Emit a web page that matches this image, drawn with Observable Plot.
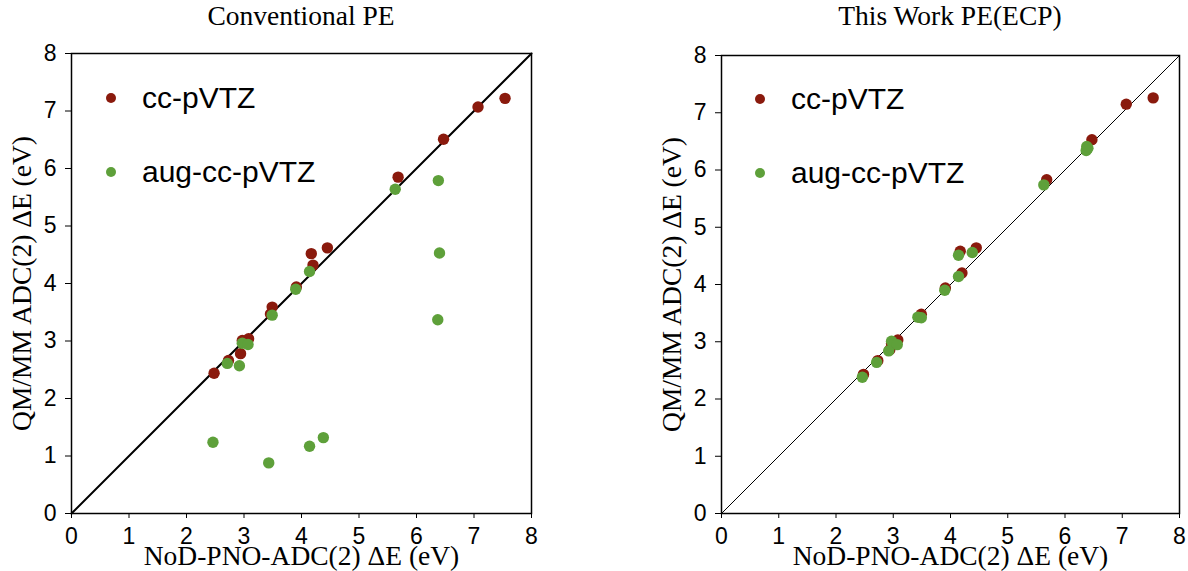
<!DOCTYPE html>
<html>
<head>
<meta charset="utf-8">
<script src="https://cdn.jsdelivr.net/npm/d3@7"></script>
<script src="https://cdn.jsdelivr.net/npm/@observablehq/plot@0.6"></script>
<style>
  html, body { margin: 0; padding: 0; background: #fff; }
  #wrap { position: relative; width: 1188px; height: 571px; overflow: hidden; }
  .panel { position: absolute; top: 0; height: 571px; }
  .title { position: absolute; top: 1px; font: 27.5px "Liberation Serif", serif; line-height: 30px; text-align: center; color: #000; white-space: nowrap; }
  .chart { position: absolute; top: 36px; left: 0; }
  .legend { position: absolute; font: 30px "Liberation Sans", sans-serif; color: #000; }
  .legend .row { position: absolute; white-space: nowrap; height: 0; }
  .legend .dot { position: absolute; width: 10px; height: 10px; border-radius: 50%; top: -5px; }
  .legend .lab { position: absolute; top: -18px; line-height: 36px; }
</style>
</head>
<body>
<div id="wrap"></div>
<script>
// ---- data ----
const panelTitles = ["Conventional PE", "This Work PE(ECP)"];
const seriesNames = ["cc-pVTZ", "aug-cc-pVTZ"];
const seriesColors = ["#8a1a0d", "#5ea03a"];
const xLabel = "NoD-PNO-ADC(2) ΔE (eV)";
const yLabel = "QM/MM ADC(2) ΔE (eV)";
const axisTicks = [0, 1, 2, 3, 4, 5, 6, 7, 8];
const diagonal = [0, 8];

// NoD-PNO-ADC(2) reference energies
const ccX  = [7.54, 7.07, 6.47, 5.68, 4.45, 4.17, 4.20, 3.91, 3.49, 3.46, 3.08, 2.97, 2.94, 2.73, 2.48];
const augX = [6.38, 6.40, 6.37, 5.63, 4.38, 4.14, 4.14, 3.90, 3.43, 3.49, 2.97, 3.07, 2.92, 2.71, 2.46];

// Conventional PE
const convCcY  = [7.22, 7.07, 6.51, 5.85, 4.62, 4.52, 4.32, 3.94, 3.59, 3.47, 3.04, 3.01, 2.78, 2.66, 2.44];
const convAugY = [5.79, 4.53, 3.37, 5.64, 1.32, 4.21, 1.17, 3.90, 0.88, 3.45, 2.96, 2.94, 2.57, 2.61, 1.24];

// This work PE(ECP)
const ecpCcY  = [7.26, 7.15, 6.53, 5.83, 4.64, 4.58, 4.20, 3.94, 3.48, 3.43, 3.03, 2.97, 2.86, 2.67, 2.43];
const ecpAugY = [6.41, 6.38, 6.34, 5.74, 4.56, 4.51, 4.14, 3.90, 3.43, 3.42, 3.01, 2.95, 2.84, 2.64, 2.38];

// ---- layout ----
const panels = [
  {left: 0,   width: 560, mL: 71, mR: 29, mT: 17, diagW: 2,   ccY: convCcY, augY: convAugY,
   legend: {dotX: 111, textX: 142, rows: [98, 172]}},
  {left: 640, width: 548, mL: 81, mR: 9,  mT: 19, diagW: 1,   ccY: ecpCcY,  augY: ecpAugY,
   legend: {dotX: 760 - 640, textX: 791 - 640, rows: [99, 173]}}
];

const wrap = document.getElementById("wrap");
const serif = "'Liberation Serif', 'Times New Roman', serif";
const sans = "'Liberation Sans', Arial, sans-serif";
const tickFont = 23;

panels.forEach((p, i) => {
  const div = document.createElement("div");
  div.className = "panel";
  div.style.left = p.left + "px";
  div.style.width = p.width + "px";
  wrap.appendChild(div);

  const innerW = p.width - p.mL - p.mR;

  const title = document.createElement("div");
  title.className = "title";
  title.style.left = p.mL + "px";
  title.style.width = innerW + "px";
  title.textContent = panelTitles[i];
  div.appendChild(title);

  const cc = ccX.map((x, k) => ({x, y: p.ccY[k]}));
  const aug = augX.map((x, k) => ({x, y: p.augY[k]}));
  const diag = diagonal.map(v => ({x: v, y: v}));

  const chart = Plot.plot({
    width: p.width,
    height: 535,
    marginLeft: p.mL,
    marginRight: p.mR,
    marginTop: p.mT,
    marginBottom: 58,
    style: {fontFamily: sans, fontSize: tickFont + "px", color: "#000", background: "transparent", overflow: "visible"},
    x: {domain: [0, 8]},
    y: {domain: [0, 8]},
    marks: [
      Plot.axisX({ticks: axisTicks, tickSize: 5, tickPadding: 9, label: null, fontSize: tickFont, tickFormat: d => String(d)}),
      Plot.axisY({ticks: axisTicks, tickSize: 6, tickPadding: 9, label: null, fontSize: tickFont, tickFormat: d => String(d)}),
      Plot.line(diag, {x: "x", y: "y", stroke: "#000", strokeWidth: p.diagW}),
      Plot.dot(cc, {x: "x", y: "y", r: 5.7, fill: seriesColors[0], stroke: "none"}),
      Plot.dot(aug, {x: "x", y: "y", r: 5.7, fill: seriesColors[1], stroke: "none"}),
      Plot.frame({stroke: "#000", strokeWidth: 1.5}),
      Plot.text([xLabel], {frameAnchor: "bottom", lineAnchor: "middle", textAnchor: "middle", dy: 43, text: d => d, fontFamily: serif, fontSize: 27.5, fill: "#000"}),
      Plot.text([yLabel], {frameAnchor: "left", textAnchor: "middle", lineAnchor: "middle", dx: -49, rotate: -90, text: d => d, fontFamily: serif, fontSize: 27.5, fill: "#000"})
    ]
  });
  // make sure tick labels use the intended size/family
  d3.select(chart).selectAll('g[aria-label$="tick label"]')
    .attr("font-size", tickFont).style("font-size", tickFont + "px").style("font-family", sans);
  chart.classList.add("chart");
  div.appendChild(chart);

  const legend = document.createElement("div");
  legend.className = "legend";
  legend.style.left = "0px";
  legend.style.top = "0px";
  seriesNames.forEach((name, k) => {
    const row = document.createElement("div");
    row.className = "row";
    row.style.top = p.legend.rows[k] + "px";
    row.style.left = "0px";
    const dot = document.createElement("div");
    dot.className = "dot";
    dot.style.left = (p.legend.dotX - 5) + "px";
    dot.style.background = seriesColors[k];
    const lab = document.createElement("div");
    lab.className = "lab";
    lab.style.left = p.legend.textX + "px";
    lab.textContent = name;
    row.appendChild(dot);
    row.appendChild(lab);
    legend.appendChild(row);
  });
  div.appendChild(legend);
});
</script>
</body>
</html>
